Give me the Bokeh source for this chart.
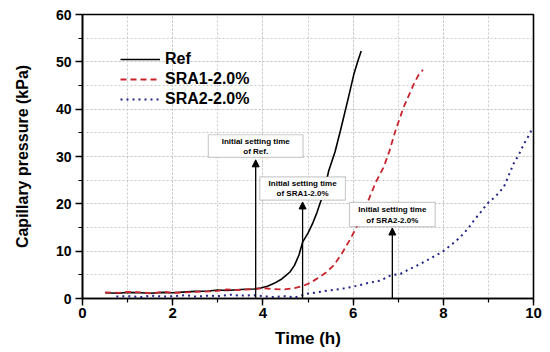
from bokeh.plotting import figure
from bokeh.models import (ColumnDataSource, Legend, LegendItem, BoxAnnotation, Label,
                          Arrow, NormalHead, FixedTicker)
from bokeh.embed import file_html
from bokeh.resources import INLINE

# ---------------- data ----------------
ref_t = [0.5, 0.8, 1.0, 1.3, 1.5, 1.8, 2.0, 2.3, 2.5, 2.8, 3.0, 3.2, 3.5, 3.8, 3.95,
         4.1, 4.25, 4.4, 4.5, 4.6, 4.7, 4.8, 4.88, 5.0, 5.1, 5.2, 5.3, 5.4, 5.46, 5.6,
         5.72, 5.9, 6.02, 6.1, 6.18]
ref_p = [1.2, 1.1, 1.3, 1.2, 1.1, 1.3, 1.2, 1.4, 1.5, 1.6, 1.8, 1.7, 1.9, 2.0, 2.2,
         2.6, 3.2, 4.0, 4.8, 5.6, 7.0, 9.2, 11.9, 13.8, 15.8, 18.2, 21.0, 24.5, 27.0, 31.0,
         35.5, 42.6, 47.5, 50.0, 52.3]

sra1_t = [0.5, 0.8, 1.0, 1.3, 1.5, 1.8, 2.0, 2.3, 2.5, 2.8, 3.0, 3.2, 3.5, 3.8, 4.0,
          4.2, 4.46, 4.7, 4.9, 5.05, 5.2, 5.4, 5.57, 5.75, 5.94, 6.1, 6.2, 6.35, 6.5,
          6.68, 6.8, 6.94, 7.12, 7.35, 7.45, 7.55]
sra1_p = [1.3, 1.2, 1.4, 1.3, 1.1, 1.4, 1.2, 1.3, 1.4, 1.5, 1.6, 1.9, 1.8, 2.0, 2.2,
          2.0, 1.9, 2.2, 2.7, 3.3, 4.2, 5.5, 7.0, 9.5, 12.6, 15.5, 17.6, 21.0, 24.5,
          27.8, 31.0, 35.5, 40.4, 45.4, 47.2, 48.3]

sra2_t = [0.75, 1.0, 1.3, 1.5, 1.8, 2.0, 2.3, 2.5, 2.8, 3.0, 3.3, 3.5, 3.8, 4.0, 4.24,
          4.5, 4.7, 4.98, 5.2, 5.45, 5.72, 6.0, 6.3, 6.61, 6.83, 7.05, 7.25, 7.49, 7.7,
          7.97, 8.2, 8.38, 8.55, 8.68, 8.85, 8.97, 9.15, 9.34, 9.45, 9.56, 9.68, 9.79,
          9.9, 9.97]
sra2_p = [0.4, 0.5, 0.3, 0.6, 0.4, 0.5, 0.7, 0.4, 0.6, 0.5, 0.8, 0.6, 0.7, 0.5, 0.3,
          0.5, 0.2, 1.0, 1.3, 1.7, 2.0, 2.5, 3.2, 3.8, 4.9, 5.2, 6.2, 7.3, 8.4,
          9.8, 11.5, 13.0, 14.8, 16.5, 18.5, 20.0, 21.5, 23.5, 26.0, 28.5, 30.5, 32.7,
          34.5, 35.9]

series_names = ["Ref", "SRA1-2.0%", "SRA2-2.0%"]
setting_times = [3.84, 4.88, 6.87]          # initial setting time (h)
setting_labels = ["of Ref.", "of SRA1-2.0%", "of SRA2-2.0%"]
x_ticks = [0, 2, 4, 6, 8, 10]
y_ticks = [0, 10, 20, 30, 40, 50, 60]

# ---------------- layout / style ----------------
arrow_tops = [29.3, 20.4, 14.9]
box_half_w = [1.05, 0.95, 0.95]
box_bottoms = [29.8, 20.8, 15.2]
box_tops = [34.6, 25.7, 20.3]

FONT = "Liberation Sans"

p = figure(width=550, height=352, x_range=(0, 10), y_range=(0, 60),
           output_backend="svg", toolbar_location=None,
           min_border_left=82, min_border_right=17, min_border_top=14, min_border_bottom=54)

src_ref = ColumnDataSource(dict(x=ref_t, y=ref_p))
src_s1 = ColumnDataSource(dict(x=sra1_t, y=sra1_p))
src_s2 = ColumnDataSource(dict(x=sra2_t, y=sra2_p))

r_ref = p.line("x", "y", source=src_ref, line_color="black", line_width=1.6)
r_s1 = p.line("x", "y", source=src_s1, line_color="#c8232c", line_width=1.8, line_dash="6 4")
r_s2 = p.line("x", "y", source=src_s2, line_color="#22228a", line_width=2, line_dash="2 4")

# axes
p.xaxis.ticker = FixedTicker(ticks=x_ticks, minor_ticks=list(range(0, 11)))
p.yaxis.ticker = FixedTicker(ticks=y_ticks, minor_ticks=list(range(0, 61, 5)))
for ax in (p.xaxis[0], p.yaxis[0]):
    ax.axis_line_color = "black"
    ax.axis_line_width = 1.6
    ax.major_tick_line_color = "black"
    ax.major_tick_line_width = 1.4
    ax.minor_tick_line_color = "black"
    ax.minor_tick_line_width = 1.2
    ax.major_tick_in = 0
    ax.major_tick_out = 7
    ax.minor_tick_in = 0
    ax.minor_tick_out = 4
    ax.major_label_text_font = FONT
    ax.major_label_text_font_style = "bold"
    ax.major_label_text_color = "black"
    ax.axis_label_text_font = FONT
    ax.axis_label_text_font_style = "bold"
    ax.axis_label_text_color = "black"

p.xaxis.major_label_text_font_size = "15px"
p.yaxis.major_label_text_font_size = "14px"
p.xaxis.axis_label = "Time (h)"
p.xaxis.axis_label_text_font_size = "17px"
p.xaxis.major_label_standoff = 2
p.xaxis.axis_label_standoff = 8
p.yaxis.axis_label = "Capillary pressure (kPa)"
p.yaxis.axis_label_text_font_size = "16px"
p.yaxis.major_label_standoff = 4
p.yaxis.axis_label_standoff = 22

# grid
for g in (p.xgrid[0], p.ygrid[0]):
    g.grid_line_color = "#c8c8c8"
    g.grid_line_dash = "2 2"
    g.grid_line_width = 1
    g.minor_grid_line_color = "#c8c8c8"
    g.minor_grid_line_dash = "2 2"
    g.minor_grid_line_width = 1

p.outline_line_color = "black"
p.outline_line_width = 1.6
p.background_fill_color = "white"
p.border_fill_color = "white"

# legend
legend = Legend(items=[LegendItem(label=series_names[0], renderers=[r_ref]),
                       LegendItem(label=series_names[1], renderers=[r_s1]),
                       LegendItem(label=series_names[2], renderers=[r_s2])],
                location=(38, 189), orientation="vertical")
legend.background_fill_alpha = 0
legend.border_line_alpha = 0
legend.padding = 0
legend.margin = 0
legend.spacing = 0
legend.label_height = 20
legend.glyph_height = 20
legend.glyph_width = 40
legend.label_standoff = 5
legend.label_text_font = FONT
legend.label_text_font_style = "bold"
legend.label_text_font_size = "16px"
legend.label_text_color = "black"
p.add_layout(legend)

# setting-time annotations
for i, t in enumerate(setting_times):
    p.add_layout(Arrow(end=NormalHead(size=7, fill_color="black", line_color="black"),
                       x_start=t, y_start=0, x_end=t, y_end=arrow_tops[i],
                       line_color="black", line_width=1.3))
    p.add_layout(BoxAnnotation(left=t - box_half_w[i], right=t + box_half_w[i],
                               bottom=box_bottoms[i], top=box_tops[i],
                               fill_color="white", fill_alpha=1.0,
                               line_color="#555555", line_width=1.2))
    h = box_tops[i] - box_bottoms[i]
    p.add_layout(Label(x=t, y=box_bottoms[i] + 0.70 * h, text="Initial setting time",
                       text_align="center", text_baseline="middle",
                       text_font=FONT, text_font_style="bold", text_font_size="8px",
                       text_color="black"))
    p.add_layout(Label(x=t, y=box_bottoms[i] + 0.27 * h, text=setting_labels[i],
                       text_align="center", text_baseline="middle",
                       text_font=FONT, text_font_style="bold", text_font_size="8px",
                       text_color="black"))

open("out.html", "w").write(file_html(p, INLINE))
